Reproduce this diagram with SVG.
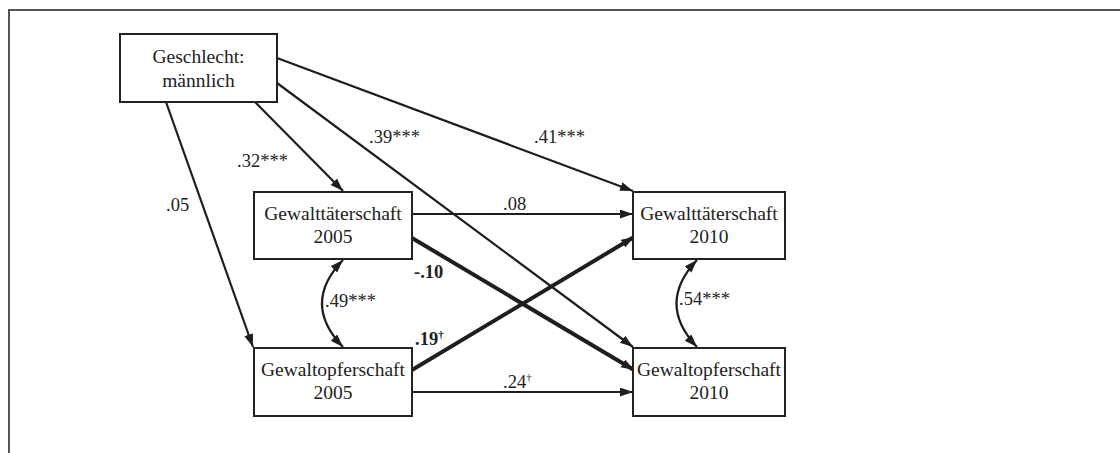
<svg xmlns="http://www.w3.org/2000/svg" width="1120" height="453" viewBox="0 0 1120 453">
<defs>
<style>
.box{fill:#fff;stroke:#222;stroke-width:2}
.nt{font-family:"Liberation Serif","Times New Roman",serif;font-size:19.5px;fill:#222;text-anchor:middle}
.lb{font-family:"Liberation Serif","Times New Roman",serif;font-size:18.5px;fill:#222}
.b{font-weight:bold}
.e{fill:none;stroke:#1e1e1e;stroke-width:2.2}
.t{stroke-width:4}
.frame{fill:none;stroke:#555;stroke-width:2}
</style>
<marker id="ah" markerUnits="userSpaceOnUse" markerWidth="14" markerHeight="10" refX="13" refY="4.5" orient="auto-start-reverse">
<path d="M0,0 L13,4.5 L0,9 z" fill="#1e1e1e"/>
</marker>
</defs>
<rect width="1120" height="453" fill="#fff"/>
<path class="frame" d="M9,453 L9,10 L1120,10"/>
<g id="connectors">
<line class="e" x1="255" y1="102" x2="343" y2="191" marker-end="url(#ah)"/>
<line class="e" x1="166" y1="102" x2="253" y2="347" marker-end="url(#ah)"/>
<line class="e" x1="277" y1="83" x2="633" y2="347" marker-end="url(#ah)"/>
<line class="e" x1="277" y1="58" x2="633" y2="191" marker-end="url(#ah)"/>
<line class="e" x1="412" y1="214" x2="633" y2="214" marker-end="url(#ah)"/>
<line class="e t" x1="412" y1="238" x2="634" y2="370" marker-end="url(#ah)"/>
<line class="e t" x1="412" y1="370" x2="634" y2="237" marker-end="url(#ah)"/>
<line class="e" x1="412" y1="392" x2="633" y2="392" marker-end="url(#ah)"/>
<path class="e" d="M343,260 Q301,303.5 343,347" marker-start="url(#ah)" marker-end="url(#ah)"/>
<path class="e" d="M697,260 Q656,303.5 697,347" marker-start="url(#ah)" marker-end="url(#ah)"/>
</g>
<g id="labels">
<text class="lb" x="237" y="167">.32***</text>
<text class="lb" x="166" y="211">.05</text>
<text class="lb" x="369" y="143">.39***</text>
<text class="lb" x="534" y="143">.41***</text>
<text class="lb" x="503" y="210">.08</text>
<text class="lb b" x="414" y="278">-.10</text>
<text class="lb" x="325" y="307">.49***</text>
<text class="lb b" x="415" y="345">.19<tspan font-size="11" dy="-7">†</tspan></text>
<text class="lb" x="503" y="388">.24<tspan font-size="11" dy="-7">†</tspan></text>
<text class="lb" x="679" y="305">.54***</text>
</g>
<g id="n-geschlecht">
<rect class="box" x="120" y="34" width="157" height="68"/>
<text class="nt" x="198.5" y="63">Geschlecht:</text>
<text class="nt" x="198.5" y="87">männlich</text>
</g>
<g id="n-gt2005">
<rect class="box" x="254" y="192" width="158" height="67"/>
<text class="nt" x="333" y="220">Gewalttäterschaft</text>
<text class="nt" x="333" y="243">2005</text>
</g>
<g id="n-go2005">
<rect class="box" x="254" y="348" width="158" height="68"/>
<text class="nt" x="333" y="376">Gewaltopferschaft</text>
<text class="nt" x="333" y="399">2005</text>
</g>
<g id="n-gt2010">
<rect class="box" x="633" y="192" width="152" height="67"/>
<text class="nt" x="709" y="220">Gewalttäterschaft</text>
<text class="nt" x="709" y="243">2010</text>
</g>
<g id="n-go2010">
<rect class="box" x="633" y="348" width="152" height="68"/>
<text class="nt" x="709" y="376">Gewaltopferschaft</text>
<text class="nt" x="709" y="399">2010</text>
</g>
</svg>
